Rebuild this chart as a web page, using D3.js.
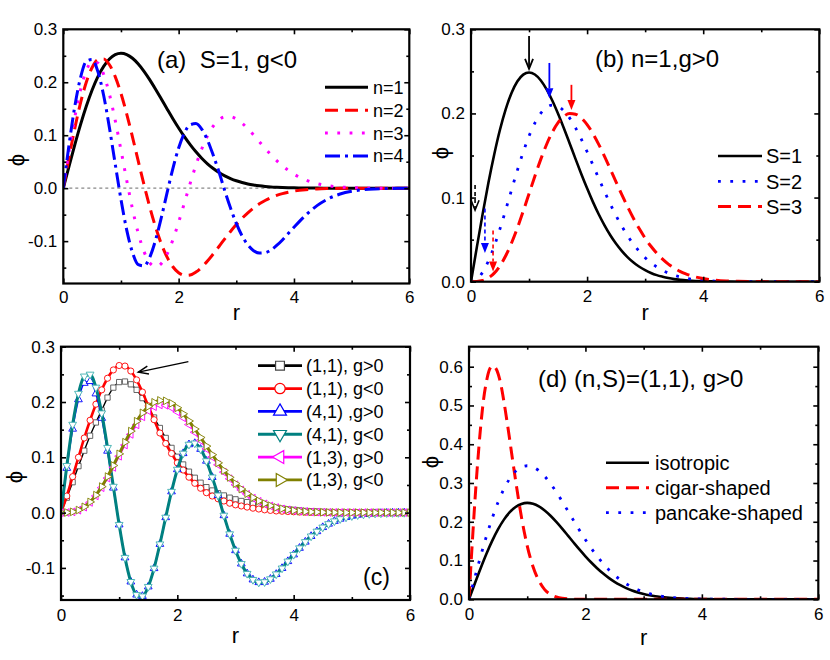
<!DOCTYPE html>
<html><head><meta charset="utf-8">
<script src="https://cdn.jsdelivr.net/npm/d3@7"></script>
<style>
body{margin:0;background:#fff}
svg{display:block;font-family:"Liberation Sans",Arial,Helvetica,sans-serif}
</style></head><body>
<svg id="chart" width="830" height="660"></svg>
<script>
// ---------- DATA ----------
// shared radial grid for panels (a), (b), (d)
const rA = [0,0.1,0.2,0.3,0.4,0.5,0.6,0.7,0.8,0.9,1,1.1,1.2,1.3,1.4,1.5,1.6,1.7,1.8,1.9,2,2.1,2.2,2.3,2.4,2.5,2.6,2.7,2.8,2.9,3,3.1,3.2,3.3,3.4,3.5,3.6,3.7,3.8,3.9,4,4.2,4.4,4.6,4.8,5,5.2,5.4,5.6,5.8,6];
// panel (a): S=1, g<0
const aN1 = [0,0.0418,0.0823,0.1205,0.1550,0.1853,0.2105,0.2301,0.2440,0.2521,0.2547,0.2523,0.2453,0.2345,0.2207,0.2045,0.1868,0.1683,0.1496,0.1312,0.1137,0.0972,0.0822,0.0686,0.0566,0.0461,0.0372,0.0296,0.0233,0.0182,0.0140,0.0107,0.0080,0.0060,0.0044,0.0032,0.0023,0.0017,0.0012,0.0008,0.0006,0.0003,0.0001,0,0,0,0,0,0,0,0];
const aN2 = [0,0.0584,0.1134,0.1616,0.2004,0.2278,0.2425,0.2441,0.2331,0.2107,0.1789,0.1400,0.0965,0.0511,0.0062,-0.0359,-0.0735,-0.1052,-0.1303,-0.1484,-0.1597,-0.1646,-0.1639,-0.1585,-0.1494,-0.1377,-0.1243,-0.1101,-0.0957,-0.0818,-0.0688,-0.0570,-0.0465,-0.0374,-0.0296,-0.0232,-0.0178,-0.0136,-0.0102,-0.0076,-0.0055,-0.0029,-0.0014,-0.0007,-0.0003,0,0,0,0,0,0];
const aN3 = [0,0.0702,0.1342,0.1863,0.2222,0.2392,0.2363,0.2148,0.1773,0.1281,0.0721,0.0146,-0.0393,-0.0852,-0.1197,-0.1410,-0.1483,-0.1423,-0.1245,-0.0976,-0.0643,-0.0278,0.0090,0.0435,0.0739,0.0987,0.1171,0.1291,0.1348,0.1350,0.1307,0.1227,0.1123,0.1004,0.0877,0.0751,0.0631,0.0521,0.0423,0.0337,0.0264,0.0156,0.0086,0.0045,0.0023,0.0011,0.0005,0.0002,0,0,0];
const aN4 = [0,0.0823,0.1549,0.2093,0.2397,0.2430,0.2201,0.1750,0.1141,0.0458,-0.0212,-0.0791,-0.1215,-0.1445,-0.1469,-0.1302,-0.0980,-0.0554,-0.0085,0.0370,0.0758,0.1041,0.1197,0.1219,0.1116,0.0908,0.0623,0.0305,-0.0049,-0.0376,-0.0665,-0.0900,-0.1072,-0.1180,-0.1226,-0.1219,-0.1168,-0.1082,-0.0978,-0.0857,-0.0739,-0.0515,-0.0330,-0.0198,-0.0111,-0.0059,-0.0029,-0.0014,-0.0006,-0.0003,0];
const aLabels = ["n=1","n=2","n=3","n=4"];
// panel (b): n=1, g>0
const bS1 = [0,0.0408,0.0803,0.1176,0.1513,0.1809,0.2055,0.2246,0.2382,0.2461,0.2487,0.2463,0.2395,0.2289,0.2154,0.1996,0.1824,0.1643,0.1460,0.1281,0.1110,0.0949,0.0802,0.0670,0.0552,0.0450,0.0363,0.0289,0.0227,0.0178,0.0137,0.0104,0.0078,0.0059,0.0043,0.0031,0.0023,0.0016,0.0011,0.0008,0.0005,0.0003,0.0001,0,0,0,0,0,0,0,0];
const bS2 = [0,0.0028,0.0112,0.0246,0.0422,0.0630,0.0858,0.1095,0.1326,0.1542,0.1731,0.1886,0.2000,0.2072,0.2099,0.2085,0.2031,0.1944,0.1830,0.1694,0.1545,0.1388,0.1228,0.1072,0.0923,0.0784,0.0657,0.0543,0.0444,0.0358,0.0285,0.0225,0.0175,0.0134,0.0102,0.0076,0.0057,0.0042,0.0030,0.0022,0.0015,0.0007,0.0003,0.0001,0,0,0,0,0,0,0];
const bS3 = [0,0.0002,0.0014,0.0045,0.0102,0.0190,0.0311,0.0463,0.0641,0.0839,0.1046,0.1254,0.1451,0.1628,0.1776,0.1890,0.1965,0.1998,0.1991,0.1946,0.1868,0.1761,0.1633,0.1490,0.1338,0.1184,0.1032,0.0887,0.0751,0.0628,0.0517,0.0421,0.0338,0.0268,0.0209,0.0162,0.0123,0.0093,0.0069,0.0051,0.0037,0.0019,0.0009,0.0004,0.0002,0.0001,0,0,0,0,0];
const bLabels = ["S=1","S=2","S=3"];
// arrows in (b): [r, phiStart, phiTip]
const bArrowR    = [1.0, 1.35, 1.73, 0.07, 0.24, 0.38];
const bArrowFrom = [0.292, 0.260, 0.234, 0.115, 0.087, 0.061];
const bArrowTo   = [0.253, 0.218, 0.204, 0.085, 0.034, 0.012];
// panel (c)
const rC = [0,0.1,0.2,0.3,0.4,0.5,0.6,0.7,0.8,0.9,1,1.1,1.2,1.3,1.4,1.5,1.6,1.7,1.8,1.9,2,2.1,2.2,2.3,2.4,2.5,2.6,2.7,2.8,2.9,3,3.1,3.2,3.3,3.4,3.5,3.6,3.7,3.8,3.9,4,4.1,4.2,4.3,4.4,4.5,4.6,4.7,4.8,4.9,5,5.1,5.2,5.3,5.4,5.5,5.6,5.7,5.8,5.9,6];
const c11p = [0,0.027,0.055,0.084,0.112,0.139,0.163,0.185,0.208,0.226,0.236,0.237,0.232,0.222,0.207,0.190,0.172,0.153,0.135,0.117,0.101,0.087,0.074,0.063,0.054,0.046,0.040,0.035,0.031,0.027,0.024,0.021,0.019,0.016,0.014,0.012,0.010,0.0085,0.007,0.006,0.005,0.004,0.003,0.0025,0.002,0.0015,0.001,0.0008,0.0006,0.0004,0.0003,0.0002,0.0002,0.0001,0.0001,0,0,0,0,0,0];
const c11m = [0,0.030,0.065,0.100,0.135,0.167,0.196,0.222,0.243,0.258,0.266,0.265,0.256,0.240,0.218,0.193,0.168,0.144,0.125,0.107,0.090,0.077,0.064,0.053,0.044,0.036,0.030,0.025,0.021,0.017,0.014,0.012,0.010,0.008,0.0065,0.005,0.004,0.003,0.0025,0.002,0.0015,0.001,0.0008,0.0006,0.0005,0.0004,0.0003,0.0002,0.0002,0.0001,0.0001,0,0,0,0,0,0,0,0,0,0];
const c41p = [0,0.0805,0.1513,0.2045,0.2342,0.2374,0.2151,0.1709,0.1115,0.0448,-0.0218,-0.0814,-0.1250,-0.1486,-0.1511,-0.1339,-0.1008,-0.0570,-0.0087,0.0380,0.0780,0.1071,0.1232,0.1254,0.1148,0.0934,0.0640,0.0313,-0.0051,-0.0387,-0.0684,-0.0925,-0.1103,-0.1213,-0.1261,-0.1254,-0.1201,-0.1113,-0.1006,-0.0881,-0.0760,-0.0641,-0.0529,-0.0427,-0.0340,-0.0266,-0.0204,-0.0154,-0.0114,-0.0084,-0.0060,-0.0043,-0.0030,-0.0021,-0.0014,-0.0010,-0.0006,-0.0004,-0.0003,-0.0002,-0.0001];
const c41m = [0,0.0847,0.1593,0.2153,0.2465,0.2499,0.2264,0.1799,0.1174,0.0472,-0.0218,-0.0814,-0.1250,-0.1486,-0.1511,-0.1339,-0.1008,-0.0570,-0.0087,0.0380,0.0780,0.1071,0.1232,0.1254,0.1148,0.0934,0.0640,0.0313,-0.0051,-0.0387,-0.0684,-0.0925,-0.1103,-0.1213,-0.1261,-0.1254,-0.1201,-0.1113,-0.1006,-0.0881,-0.0760,-0.0641,-0.0529,-0.0427,-0.0340,-0.0266,-0.0204,-0.0154,-0.0114,-0.0084,-0.0060,-0.0043,-0.0030,-0.0021,-0.0014,-0.0010,-0.0006,-0.0004,-0.0003,-0.0002,-0.0001];
const c13p = [0,0.0002,0.0014,0.0044,0.0099,0.0185,0.0303,0.0451,0.0625,0.0818,0.1020,0.1223,0.1415,0.1587,0.1732,0.1843,0.1916,0.1948,0.1941,0.1897,0.1821,0.1717,0.1592,0.1453,0.1305,0.1154,0.1006,0.0865,0.0732,0.0612,0.0504,0.0410,0.0330,0.0261,0.0204,0.0158,0.0120,0.0091,0.0067,0.0050,0.0036,0.0026,0.0019,0.0013,0.0009,0.0006,0.0004,0.0003,0.0002,0.0001,0.0001,0,0,0,0,0,0,0,0,0,0];
const c13m = [0,0.0002,0.0014,0.0046,0.0104,0.0193,0.0316,0.0470,0.0651,0.0852,0.1062,0.1273,0.1473,0.1652,0.1803,0.1918,0.1994,0.2028,0.2021,0.1975,0.1896,0.1787,0.1657,0.1512,0.1358,0.1202,0.1047,0.0900,0.0762,0.0637,0.0525,0.0427,0.0343,0.0272,0.0212,0.0164,0.0125,0.0094,0.0070,0.0052,0.0038,0.0027,0.0019,0.0013,0.0009,0.0006,0.0004,0.0003,0.0002,0.0001,0.0001,0,0,0,0,0,0,0,0,0,0];
const cLabels = ["(1,1), g>0","(1,1), g<0","(4,1) ,g>0","(4,1), g<0","(1,3), g>0","(1,3), g<0"];
const cArrow = [2.19, 0.273, 1.33, 0.254]; // r0, phi0, r1, phi1
// panel (d)
const dIso = bS1;
const dPancake = [0,0.0565,0.1113,0.1629,0.2097,0.2506,0.2847,0.3112,0.3300,0.3410,0.3445,0.3412,0.3318,0.3172,0.2984,0.2766,0.2527,0.2276,0.2023,0.1775,0.1537,0.1315,0.1111,0.0928,0.0765,0.0624,0.0503,0.0401,0.0316,0.0246,0.0189,0.0145,0.0109,0.0082,0.0060,0.0044,0.0031,0.0023,0.0016,0.0011,0.0008,0.0003,0.0001,0,0,0,0,0,0,0,0];
const rCigar = [0,0.05,0.1,0.15,0.2,0.25,0.3,0.35,0.4,0.45,0.5,0.55,0.6,0.65,0.7,0.75,0.8,0.85,0.9,0.95,1.0,1.1,1.2,1.3,1.4,1.5,1.6,1.8,2,3,4,5,6];
const dCigar = [0,0.13,0.25,0.355,0.445,0.515,0.562,0.592,0.602,0.598,0.582,0.552,0.51,0.462,0.411,0.358,0.307,0.258,0.213,0.173,0.138,0.084,0.048,0.025,0.0127,0.006,0.0026,0.0004,0,0,0,0,0];
const dLabels = ["isotropic","cigar-shaped","pancake-shaped"];

// ---------- DRAWING ----------
const svg = d3.select("#chart");
const FONT = '"Liberation Sans",Arial,Helvetica,sans-serif';
let clipId = 0;

function panel(o){
  const x = d3.scaleLinear().domain([0,6]).range([o.x0,o.x1]);
  const y = d3.scaleLinear().domain(o.yDomain).range([o.yBot,o.yTop]);
  const g = svg.append("g");
  const id = "clip"+(clipId++);
  g.append("clipPath").attr("id",id).append("rect")
    .attr("x",o.x0).attr("y",o.yTop).attr("width",o.x1-o.x0).attr("height",o.yBot-o.yTop);
  const plot = g.append("g").attr("clip-path",`url(#${id})`);
  const fmt = d => d.toFixed(1);
  const styleAxis = sel => { sel.select(".domain").remove();
    sel.selectAll(".tick line").attr("stroke","#000").attr("stroke-width",1.6);
    sel.selectAll("text").attr("font-size",17).attr("font-family",FONT).attr("fill","#000"); };
  const ax = g.append("g");
  ax.append("g").attr("transform",`translate(0,${o.yBot})`)
    .call(d3.axisBottom(x).tickValues([0,2,4,6]).tickSize(-5).tickPadding(o.xPad).tickFormat(d3.format("d"))).call(styleAxis);
  ax.append("g").attr("transform",`translate(0,${o.yBot})`)
    .call(d3.axisBottom(x).tickValues([1,3,5]).tickSize(-3).tickFormat("")).call(styleAxis);
  ax.append("g").attr("transform",`translate(0,${o.yTop})`)
    .call(d3.axisTop(x).tickValues([0,2,4,6]).tickSize(-5).tickFormat("")).call(styleAxis);
  ax.append("g").attr("transform",`translate(0,${o.yTop})`)
    .call(d3.axisTop(x).tickValues([1,3,5]).tickSize(-3).tickFormat("")).call(styleAxis);
  ax.append("g").attr("transform",`translate(${o.x0},0)`)
    .call(d3.axisLeft(y).tickValues(o.yMajor).tickSize(-5).tickPadding(6).tickFormat(fmt)).call(styleAxis);
  ax.append("g").attr("transform",`translate(${o.x0},0)`)
    .call(d3.axisLeft(y).tickValues(o.yMinor).tickSize(-3).tickFormat("")).call(styleAxis);
  ax.append("g").attr("transform",`translate(${o.x1},0)`)
    .call(d3.axisRight(y).tickValues(o.yMajor).tickSize(-5).tickFormat("")).call(styleAxis);
  ax.append("g").attr("transform",`translate(${o.x1},0)`)
    .call(d3.axisRight(y).tickValues(o.yMinor).tickSize(-3).tickFormat("")).call(styleAxis);
  g.append("rect").attr("x",o.x0).attr("y",o.yTop).attr("width",o.x1-o.x0).attr("height",o.yBot-o.yTop)
    .attr("fill","none").attr("stroke","#000").attr("stroke-width",2.2);
  // axis titles
  g.append("text").attr("x",(o.x0+o.x1)/2).attr("y",o.rY).attr("text-anchor","middle")
    .attr("font-size",22).attr("font-family",FONT).text("r");
  g.append("text").attr("transform",`translate(${o.phiX},${o.phiY}) rotate(-90)`)
    .attr("text-anchor","middle").attr("dy","0.35em").attr("font-size",22).attr("font-family",FONT).text("\u03d5");
  return {x,y,g,plot};
}

function line(P, rs, vs, color, width, dash){
  const pts = rs.map((r,i)=>[r,vs[i]]);
  P.plot.append("path").datum(pts)
    .attr("d", d3.line().x(d=>P.x(d[0])).y(d=>P.y(d[1])).curve(d3.curveMonotoneX))
    .attr("fill","none").attr("stroke",color).attr("stroke-width",width)
    .attr("stroke-dasharray",dash||null);
}

function legendLine(g, x0, x1, y, color, width, dash, label, tx, fs){
  g.append("line").attr("x1",x0).attr("x2",x1).attr("y1",y).attr("y2",y)
    .attr("stroke",color).attr("stroke-width",width).attr("stroke-dasharray",dash||null);
  g.append("text").attr("x",tx).attr("y",y).attr("dy","0.36em").attr("font-size",fs)
    .attr("font-family",FONT).text(label);
}

function arrow(g, x0, y0, x1, y1, color, width, dash, filled){
  const ang = Math.atan2(y1-y0, x1-x0);
  const L = 10, W = 4;
  const bx = x1 - L*Math.cos(ang), by = y1 - L*Math.sin(ang);
  const px = -Math.sin(ang)*W, py = Math.cos(ang)*W;
  g.append("line").attr("x1",x0).attr("y1",y0).attr("x2",filled? bx : x1).attr("y2",filled? by : y1)
    .attr("stroke",color).attr("stroke-width",width).attr("stroke-dasharray",dash||null);
  if(filled){
    g.append("path").attr("d",`M${x1},${y1}L${bx+px},${by+py}L${bx-px},${by-py}Z`).attr("fill",color);
  } else {
    g.append("path").attr("d",`M${bx+px},${by+py}L${x1},${y1}L${bx-px},${by-py}`)
      .attr("fill","none").attr("stroke",color).attr("stroke-width",width);
  }
}

const DOT = "2.8 9.5", DASH = "13 7", DASHDOT = "15 5 3 5";

// ----- panel (a)
const A = panel({x0:63.3,x1:409.3,yTop:29.3,yBot:283.5,yDomain:[-0.18,0.3],
  yMajor:[-0.1,0,0.1,0.2,0.3],yMinor:[-0.15,-0.05,0.05,0.15,0.25],xPad:7,rY:320,phiX:16,phiY:160});
A.plot.append("line").attr("x1",A.x(0)).attr("x2",A.x(6)).attr("y1",A.y(0)).attr("y2",A.y(0))
  .attr("stroke","#888").attr("stroke-width",1.2).attr("stroke-dasharray","3 3");
line(A, rA, aN1, "#000", 3);
line(A, rA, aN2, "#ff0000", 3, DASH);
line(A, rA, aN3, "#ff00ff", 3, DOT);
line(A, rA, aN4, "#0000ff", 3, DASHDOT);
A.g.append("text").attr("x",157).attr("y",68).attr("font-size",24).attr("font-family",FONT)
  .attr("xml:space","preserve").style("white-space","pre").text("(a)  S=1, g<0");
[["#000",null],["#ff0000",DASH],["#ff00ff",DOT],["#0000ff",DASHDOT]].forEach((s,i)=>
  legendLine(A.g,325,368,87.3+i*22.9,s[0],3,s[1],aLabels[i],373,18));

// ----- panel (b)
const B = panel({x0:471,x1:819.3,yTop:29.3,yBot:281.7,yDomain:[0,0.3],
  yMajor:[0,0.1,0.2,0.3],yMinor:[0.05,0.15,0.25],xPad:8,rY:320,phiX:440,phiY:153});
line(B, rA, bS1, "#000", 2.6);
line(B, rA, bS2, "#0000ff", 2.8, DOT);
line(B, rA, bS3, "#ff0000", 3, DASH);
B.g.append("text").attr("x",595).attr("y",67).attr("font-size",24).attr("font-family",FONT).text("(b) n=1,g>0");
[["#000",null,2.6],["#0000ff",DOT,2.8],["#ff0000",DASH,3]].forEach((s,i)=>
  legendLine(B.g,718,762,156+i*25.3,s[0],s[2],s[1],bLabels[i],766,20));
const bCol = ["#000","#0000ff","#ff0000","#000","#0000ff","#ff0000"];
bArrowR.forEach((r,i)=>{
  const dashed = i>=3;
  arrow(B.g, B.x(r), B.y(bArrowFrom[i]), B.x(r), B.y(bArrowTo[i]), bCol[i], dashed?1.6:1.8, dashed?"4 3":null, i===1||i===2||i===4||i===5);
});

// ----- panel (c)
const C = panel({x0:61,x1:410,yTop:346.7,yBot:600,yDomain:[-0.158,0.3],
  yMajor:[-0.1,0,0.1,0.2,0.3],yMinor:[-0.15,-0.05,0.05,0.15,0.25],xPad:9,rY:643,phiX:14,phiY:477});
const cSeries = [
  {v:c11p,color:"#000",edge:"#555",w:1.4,sym:d3.symbolSquare,rot:0,size:28},
  {v:c11m,color:"#ff0000",edge:"#ff0000",w:2.6,sym:d3.symbolCircle,rot:0,size:30},
  {v:c41p,color:"#0000ff",edge:"#0000ff",w:1.6,sym:d3.symbolTriangle,rot:0,size:26},
  {v:c41m,color:"#008080",edge:"#40b0b0",w:3,sym:d3.symbolTriangle,rot:180,size:26},
  {v:c13p,color:"#ff00ff",edge:"#ff00ff",w:1.6,sym:d3.symbolTriangle,rot:-90,size:26},
  {v:c13m,color:"#808000",edge:"#808000",w:3,sym:d3.symbolTriangle,rot:90,size:26}
];
cSeries.forEach(s=>{
  line(C, rC, s.v, s.color, s.w);
  C.plot.append("g").selectAll("path").data(rC.map((r,i)=>[r,s.v[i]])).join("path")
    .attr("d", d3.symbol().type(s.sym).size(s.size))
    .attr("transform", d=>`translate(${C.x(d[0])},${C.y(d[1])}) rotate(${s.rot})`)
    .attr("fill","#fff").attr("stroke",s.edge).attr("stroke-width",0.9);
});
cSeries.forEach((s,i)=>{
  const yy = 365.7+i*22.85;
  legendLine(C.g,258,302,yy,s.color,2.8,null,cLabels[i],306,18);
  C.g.append("path").attr("d", d3.symbol().type(s.sym).size(s.size*2.8))
    .attr("transform",`translate(280,${yy}) rotate(${s.rot})`)
    .attr("fill","#fff").attr("stroke",s.color==="#000"?"#444":s.color).attr("stroke-width",1.2);
});
C.g.append("text").attr("x",363).attr("y",585).attr("font-size",23).attr("font-family",FONT).text("(c)");
arrow(C.g, C.x(cArrow[0]), C.y(cArrow[1]), C.x(cArrow[2]), C.y(cArrow[3]), "#000", 1.5, null, false);

// ----- panel (d)
const D = panel({x0:469,x1:818.3,yTop:346.7,yBot:599.3,yDomain:[0,0.6516],
  yMajor:[0,0.1,0.2,0.3,0.4,0.5,0.6],yMinor:[0.05,0.15,0.25,0.35,0.45,0.55],xPad:9,rY:645,phiX:430,phiY:462});
line(D, rA, dIso, "#000", 2.6);
line(D, rCigar, dCigar, "#ff0000", 3, DASH);
line(D, rA, dPancake, "#0000ff", 2.8, DOT);
D.g.append("text").attr("x",538).attr("y",387).attr("font-size",24).attr("font-family",FONT).text("(d) (n,S)=(1,1), g>0");
[["#000",null,2.6],["#ff0000",DASH,3],["#0000ff",DOT,2.8]].forEach((s,i)=>
  legendLine(D.g,606,649,462.7+i*25,s[0],s[2],s[1],dLabels[i],655,20));
</script>
</body></html>
